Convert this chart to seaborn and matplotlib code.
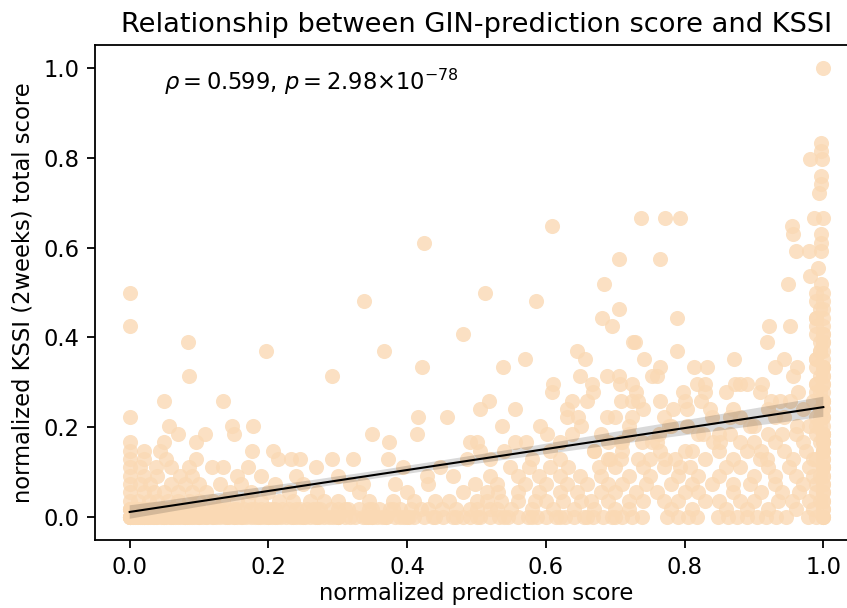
import numpy as np
import pandas as pd
import matplotlib
matplotlib.use("Agg")
import matplotlib.pyplot as plt
import seaborn as sns

# KSSI raw total score (max 54) and normalized prediction scores
MAX_KSSI = 54

# dense band, one list of x positions per KSSI raw score (overlapping points included)
pred_at_0 = [0.0, 0.0, 0.0, 0.01, 0.02, 0.03, 0.04, 0.05, 0.06, 0.07, 0.08, 0.09, 0.1, 0.112,
             0.125, 0.137, 0.15, 0.162, 0.175, 0.188, 0.2, 0.213, 0.226, 0.24, 0.253, 0.267,
             0.28, 0.293, 0.318, 0.336, 0.35, 0.364, 0.383, 0.396, 0.41, 0.424, 0.437, 0.452,
             0.466, 0.48, 0.49, 0.505, 0.52, 0.533, 0.546, 0.56, 0.574, 0.587, 0.6, 0.614,
             0.628, 0.641, 0.655, 0.668, 0.682, 0.696, 0.71, 0.724, 0.738, 0.775, 0.79, 0.805,
             0.818, 0.848, 0.862, 0.876, 0.89, 0.905, 0.918, 0.932, 0.946, 0.978, 0.99, 1.0,
             1.0, 1.0,
             0.0, 0.005, 0.012, 0.018, 0.025, 0.033, 0.038, 0.045, 0.052, 0.058, 0.065, 0.073,
             0.078, 0.085, 0.093, 0.098, 0.105, 0.118, 0.13, 0.143, 0.155, 0.168, 0.18, 0.193,
             0.205, 0.218, 0.232, 0.246, 0.26, 0.273, 0.287, 0.3, 0.31, 0.325, 0.343, 0.357,
             0.37, 0.39, 0.403, 0.0, 0.008, 0.015, 0.027, 0.035, 0.048, 0.063, 0.082, 0.1,
             0.12, 0.14, 0.16, 0.185, 0.21, 0.235, 0.27, 0.3, 0.34, 0.37, 0.4, 0.44, 0.47, 0.5,
             0.54, 0.58, 0.62, 0.66, 0.7, 0.0, 0.02, 0.05, 0.08, 0.11, 0.15, 0.2, 0.25, 0.3,
             0.35]
pred_at_1 = [0.0, 0.015, 0.03, 0.045, 0.06, 0.075, 0.095, 0.12, 0.14, 0.165, 0.19, 0.21,
             0.23, 0.255, 0.275, 0.3, 0.33, 0.36, 0.39, 0.42, 0.45, 0.5, 0.52, 0.55, 0.58,
             0.61, 0.64, 0.67, 0.7, 0.72, 0.78, 0.81, 0.86, 0.89, 0.92, 0.96, 0.985, 1.0, 1.0,
             0.0, 0.008, 0.022, 0.038, 0.052, 0.068, 0.085, 0.105, 0.13, 0.15, 0.175, 0.2,
             0.22, 0.245, 0.265, 0.29, 0.315, 0.345, 0.375, 0.405, 0.0, 0.01, 0.025, 0.04,
             0.06, 0.08, 0.1, 0.125, 0.155, 0.18, 0.205, 0.24, 0.27, 0.31, 0.35, 0.38, 0.43,
             0.47, 0.49, 0.53]
pred_at_2 = [0.0, 0.012, 0.028, 0.04, 0.055, 0.07, 0.085, 0.1, 0.12, 0.135, 0.155, 0.17,
             0.19, 0.215, 0.235, 0.26, 0.28, 0.3, 0.345, 0.38, 0.41, 0.44, 0.46, 0.5, 0.515,
             0.535, 0.56, 0.585, 0.6, 0.625, 0.65, 0.665, 0.69, 0.72, 0.74, 0.77, 0.79, 0.83,
             0.85, 0.88, 0.9, 0.935, 0.955, 0.98, 0.995, 1.0, 1.0]
pred_at_3 = [0.0, 0.02, 0.035, 0.05, 0.07, 0.09, 0.11, 0.145, 0.175, 0.2, 0.23, 0.27, 0.33,
             0.4, 0.48, 0.515, 0.531, 0.56, 0.59, 0.62, 0.645, 0.68, 0.7, 0.73, 0.76, 0.8,
             0.82, 0.87, 0.91, 0.94, 0.965, 0.99, 1.0, 1.0]
pred_at_4 = [0.0, 0.015, 0.03, 0.06, 0.08, 0.1, 0.13, 0.16, 0.21, 0.25, 0.317, 0.337, 0.382,
             0.43, 0.498, 0.53, 0.57, 0.6, 0.63, 0.66, 0.69, 0.71, 0.745, 0.78, 0.81, 0.84,
             0.87, 0.895, 0.93, 0.97, 0.99, 1.0, 1.0]
pred_at_5 = [0.0, 0.02, 0.04, 0.072, 0.09, 0.154, 0.19, 0.24, 0.3, 0.428, 0.466, 0.52, 0.56,
             0.59, 0.62, 0.649, 0.68, 0.72, 0.75, 0.79, 0.82, 0.85, 0.9, 0.93, 0.96, 0.985,
             1.0, 1.0]
pred_at_6 = [0.0, 0.015, 0.038, 0.06, 0.085, 0.118, 0.135, 0.17, 0.268, 0.394, 0.447, 0.548,
             0.575, 0.606, 0.632, 0.676, 0.7, 0.74, 0.77, 0.793, 0.808, 0.86, 0.88, 0.92,
             0.95, 0.98, 1.0, 1.0]
pred_at_7 = [0.0, 0.02, 0.053, 0.096, 0.214, 0.233, 0.245, 0.291, 0.322, 0.372, 0.486, 0.52,
             0.58, 0.62, 0.693, 0.709, 0.733, 0.772, 0.786, 0.83, 0.87, 0.909, 0.919, 0.957,
             0.985, 1.0, 1.0]
pred_at_8 = [0.0, 0.02, 0.043, 0.177, 0.206, 0.505, 0.54, 0.606, 0.669, 0.71, 0.765, 0.8,
             0.85, 0.89, 0.943, 0.975, 1.0, 1.0]
pred_at_9 = [0.0, 0.05, 0.095, 0.374, 0.49, 0.5, 0.555, 0.572, 0.69, 0.709, 0.738, 0.753,
             0.841, 0.851, 0.9, 0.93, 0.97, 1.0, 1.0]
pred_at_10 = [0.07, 0.108, 0.15, 0.35, 0.414, 0.601, 0.637, 0.68, 0.763, 0.827, 0.866, 0.92,
              0.96, 0.99, 1.0, 1.0]
pred_at_11 = [0.057, 0.147, 0.178, 0.537, 0.592, 0.72, 0.778, 0.803, 0.895, 0.962, 0.98, 1.0]
pred_at_12 = [0.0, 0.416, 0.458, 0.647, 0.688, 0.724, 0.866, 0.88, 0.943, 0.99, 1.0]
dense_rows = [pred_at_0, pred_at_1, pred_at_2, pred_at_3, pred_at_4, pred_at_5, pred_at_6,
              pred_at_7, pred_at_8, pred_at_9, pred_at_10, pred_at_11, pred_at_12]

# extra points hidden in the busy middle-right area
mid_pred = [0.62, 0.65, 0.67, 0.7, 0.72, 0.74, 0.76, 0.78, 0.8, 0.82, 0.84, 0.86, 0.88, 0.9,
            0.92, 0.94, 0.66, 0.69, 0.73, 0.77, 0.81, 0.85, 0.89, 0.93, 0.71, 0.63, 0.87,
            0.91, 0.75, 0.83]
mid_raw = [9, 11, 8, 12, 10, 13, 9, 11, 14, 10, 12, 15, 9, 11,
           13, 10, 14, 7, 15, 12, 8, 10, 16, 12, 9, 12, 13,
           8, 7, 16]

# the packed column at prediction score ~1
col_pred = [1.0, 0.995, 1.0, 0.99, 1.0, 0.995, 1.0, 0.99, 1.0, 0.995, 1.0, 0.99, 1.0, 0.995,
            1.0, 0.99, 1.0, 0.995, 1.0, 0.99, 1.0, 0.995, 1.0, 0.99, 1.0, 0.995, 1.0, 0.99,
            1.0, 0.995, 1.0, 0.99, 1.0, 0.995, 1.0, 0.99, 1.0, 0.995]
col_raw = [8, 9, 10, 11, 12, 13, 14, 15, 16, 17, 18, 19, 20, 21,
           22, 23, 24, 25, 26, 27, 10, 12, 14, 16, 18, 20, 22, 24,
           13, 15, 17, 19, 21, 11, 9, 7, 6, 5]

# sparse upper points
sparse_pred = [0.505, 0.555, 0.63, 0.784, 0.803, 0.837, 0.97, 1.0,
               0.049, 0.134, 0.518, 0.637, 0.709, 0.724, 0.733, 0.765, 0.823, 0.924, 0.938,
               0.952, 0.985, 1.0,
               0.609, 0.668, 0.798, 0.83, 0.909, 0.964, 1.0,
               0.611, 0.666, 0.707, 0.724, 0.818, 0.873, 0.88, 0.911, 0.99, 1.0,
               0.086, 0.292, 0.649, 0.688, 0.705, 0.753, 0.76, 0.957, 1.0,
               0.421, 0.538, 0.765, 0.813, 0.832, 0.931, 0.962, 0.99, 1.0,
               0.57, 0.657, 0.741, 0.871, 0.943, 1.0,
               0.197, 0.366, 0.645, 0.789, 0.995,
               0.084, 0.729, 0.726, 0.919, 1.0,
               0.48, 0.99,
               0.0, 0.695, 0.921, 0.952, 1.0,
               0.681, 0.789, 0.99,
               0.705, 1.0,
               0.338, 0.586, 0.99,
               0.0, 0.512, 1.0,
               0.684, 0.949, 0.997,
               0.981, 0.993, 0.705, 0.765,
               0.96, 0.979, 0.996,
               0.425, 0.997, 0.956, 0.997, 0.609, 0.955,
               0.737, 0.772, 0.793, 0.986, 1.0,
               0.994, 0.997, 0.996, 0.981, 0.998, 0.997, 0.997, 1.0]
sparse_raw = [13, 13, 13, 13, 13, 13, 13, 13,
              14, 14, 14, 14, 14, 14, 14, 14, 14, 14, 14,
              14, 14, 14,
              15, 15, 15, 15, 15, 15, 15,
              16, 16, 16, 16, 16, 16, 16, 16, 16, 16,
              17, 17, 17, 17, 17, 17, 17, 17, 17,
              18, 18, 18, 18, 18, 18, 18, 18, 18,
              19, 19, 19, 19, 19, 19,
              20, 20, 20, 20, 20,
              21, 21, 21, 21, 21,
              22, 22,
              23, 23, 23, 23, 23,
              24, 24, 24,
              25, 25,
              26, 26, 26,
              27, 27, 27,
              28, 28, 28,
              29, 30, 31, 31,
              32, 32, 32,
              33, 33, 34, 34, 35, 35,
              36, 36, 36, 36, 36,
              39, 40, 41, 43, 43, 44, 45, 54]

pred = []
raw = []
for k, row in enumerate(dense_rows):
    pred += row
    raw += [k] * len(row)
pred += mid_pred + col_pred + sparse_pred
raw += mid_raw + col_raw + sparse_raw

df = pd.DataFrame({"pred": pred, "kssi": np.array(raw) / MAX_KSSI})

fig = plt.figure(figsize=(8.47, 6.08), dpi=100)
ax = fig.add_axes([95 / 847, 1 - 539.7 / 608, (858 - 95) / 847, (539.7 - 45.4) / 608])

sns.regplot(data=df, x="pred", y="kssi", ax=ax, seed=0,
            scatter_kws=dict(s=118, color="#fad9b4", alpha=0.8, linewidths=0),
            line_kws=dict(color="black", lw=1.5))

ax.set_xlim(-0.05, 1.05)
ax.set_ylim(-0.05, 1.05)
ax.set_xticks([0.0, 0.2, 0.4, 0.6, 0.8, 1.0])
ax.set_yticks([0.0, 0.2, 0.4, 0.6, 0.8, 1.0])
ax.tick_params(labelsize=16.3, length=5.7, width=1.3, pad=5.7)
for sp in ax.spines.values():
    sp.set_linewidth(1.3)

ax.text(0.05, 0.95, r"$\rho=0.599$, $p=2.98{\times}10^{-78}$", fontsize=16.3)
ax.set_title("Relationship between GIN-prediction score and KSSI", fontsize=19.6, pad=9.8)
ax.set_xlabel("normalized prediction score", fontsize=16.3, labelpad=2.5)
ax.set_ylabel("normalized KSSI (2weeks) total score", fontsize=16.3, labelpad=6.5)

fig.savefig("out.png", dpi=100)
